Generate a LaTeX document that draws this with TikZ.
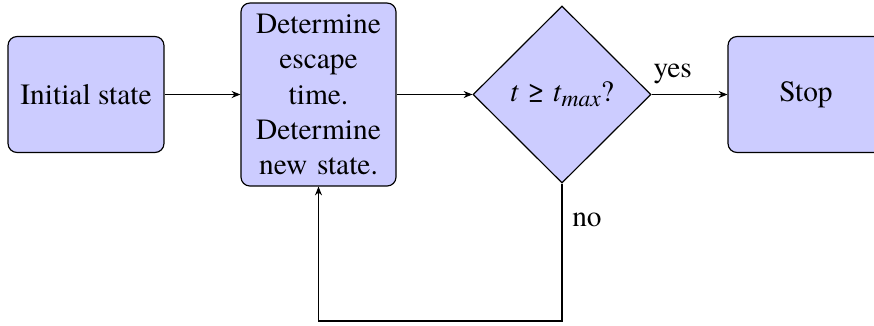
\documentclass[tikz,border=0pt]{standalone}
\usepackage{fontspec}
\setmainfont{texgyretermes}[Extension=.otf, UprightFont=*-regular, ItalicFont=*-italic,
  BoldFont=*-bold, BoldItalicFont=*-bolditalic]
\usetikzlibrary{shapes.geometric,arrows.meta}
\tikzset{
  block/.style={draw=black, fill=blue!20, rounded corners=3pt, align=center, inner sep=0pt},
  decision/.style={diamond, draw=black, fill=blue!20, aspect=1, inner sep=0pt,
    minimum width=60.5pt, minimum height=60.2pt},
  flow/.style={-{Stealth[length=3pt,width=2.4pt]}},
  lbl/.style={inner sep=0pt},
}
\begin{document}
\begin{tikzpicture}[x=0.34pt, y=-0.34pt, font=\fontsize{10pt}{12pt}\selectfont]
  \useasboundingbox (0,0) rectangle (874,325);
  % process steps
  \node[block, minimum width=53pt, minimum height=39.4pt] (init) at (86,94.5) {Initial state};
  \node[block, minimum width=52.7pt, minimum height=62.2pt, text width=46pt] (step2) at (318.5,94.5)
    {Determine escape time. Determine new state.};
  \node[decision] (dec) at (562,94.5)
    {\textit{t}\hspace{0.3em}≥\hspace{0.3em}\textit{t}\raisebox{-0.18em}{\footnotesize\textit{max}}?};
  \node[block, minimum width=53pt, minimum height=39.4pt] (stop) at (806,94.5) {Stop};
  \coordinate (loop) at (562,321);
  % connectors
  \draw[flow] (init) -- (step2);
  \draw[flow] (step2) -- (dec);
  \draw[flow] (dec) -- node[lbl, pos=0, anchor=base west, xshift=0.5pt, yshift=5.8pt] {yes} (stop);
  \draw[flow] (dec.south) -- node[lbl, pos=0.25, anchor=west, xshift=3.3pt, yshift=-0.8pt] {no} (loop) -| (step2.south);
\end{tikzpicture}
\end{document}
